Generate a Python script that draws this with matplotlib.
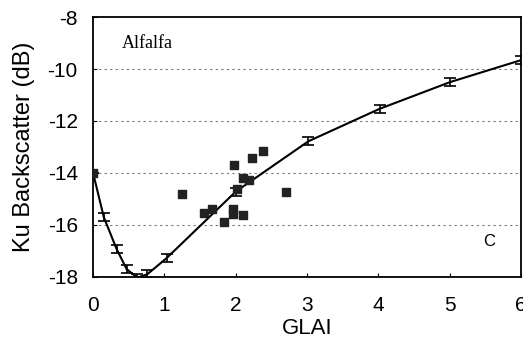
import matplotlib.pyplot as plt

# model curve (with small error bars)
glai_line = [0, 0.15, 0.33, 0.47, 0.62, 0.76, 1.03, 2.0, 3.02, 4.02, 5.01, 6.0]
ku_line = [-14.0, -15.7, -16.93, -17.7, -18.03, -17.9, -17.28, -14.72, -12.78, -11.53, -10.5, -9.66]
ku_err = [0, 0.15, 0.15, 0.15, 0.15, 0.15, 0.15, 0.15, 0.15, 0.15, 0.15, 0.15]

# measured points
glai_obs = [0, 1.25, 1.55, 1.67, 1.84, 1.96, 1.96, 1.98, 2.02, 2.10, 2.10, 2.18, 2.23, 2.38, 2.71]
ku_obs = [-14.0, -14.81, -15.56, -15.39, -15.88, -15.39, -15.58, -13.71, -14.61, -14.19, -15.62, -14.27,
          -13.42, -13.17, -14.74]

plt.rcParams['font.family'] = ['Liberation Sans', 'DejaVu Sans']
plt.rcParams['axes.unicode_minus'] = False

fig = plt.figure(figsize=(5.23, 3.41), dpi=100)
ax = fig.add_axes([0.178, 0.188, 0.818, 0.762])

for y in [-10, -12, -14, -16]:
    ax.axhline(y, color='#777777', lw=0.8, ls=(0, (2, 3)), zorder=0)

ax.errorbar(glai_line, ku_line, yerr=ku_err, color='black', lw=1.5,
            capsize=4, elinewidth=1.2, capthick=1.2, zorder=2)
ax.scatter(glai_obs, ku_obs, marker='s', s=30, color='#222222', zorder=3)

ax.set_xlim(0, 6)
ax.set_ylim(-18, -8)
ax.set_xticks(range(0, 7))
ax.set_yticks(range(-18, -7, 2))
ax.tick_params(direction='in', length=3, labelsize=15)
ax.tick_params(axis='x', pad=14)
ax.tick_params(axis='y', pad=11)
for s in ax.spines.values():
    s.set_linewidth(1.3)

ax.set_xlabel('GLAI', fontsize=16)
ax.xaxis.set_label_coords(0.5, -0.158)
ax.set_ylabel('Ku Backscatter (dB)', fontsize=17)
ax.yaxis.set_label_coords(-0.136, 0.5)

ax.text(0.4, -9.0, 'Alfalfa', fontsize=13, family=['Liberation Serif'], va='center')
ax.text(5.55, -16.64, 'C', fontsize=12, ha='center', va='center')

fig.savefig('out.png', dpi=100)
